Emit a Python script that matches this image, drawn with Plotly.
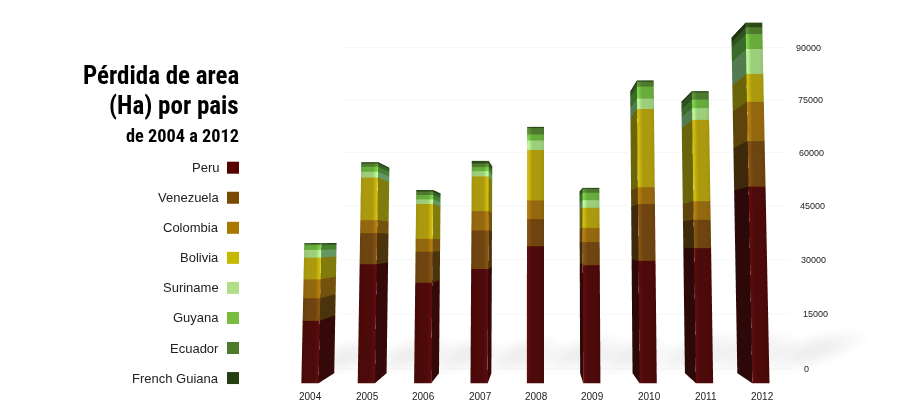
import math
import plotly.graph_objects as go

# ---- data ----
years = [2004, 2005, 2006, 2007, 2008, 2009, 2010, 2011, 2012]
peru = [15850, 30400, 25630, 29180, 35060, 30130, 31250, 34545, 50570]
venezuela = [5800, 8050, 7970, 9960, 7010, 5970, 14730, 7350, 11950]
colombia = [4850, 3380, 3360, 5020, 4900, 3700, 4420, 4860, 10390]
bolivia = [5600, 11080, 9080, 9090, 13230, 5250, 20620, 21380, 7470]
suriname = [2000, 1560, 1210, 1390, 2500, 2000, 2780, 3120, 6670]
guyana = [1200, 1300, 1130, 1040, 1560, 1900, 3190, 2260, 4000]
ecuador = [350, 870, 870, 950, 1700, 1020, 1300, 1900, 1840]
french_guiana = [200, 350, 430, 690, 340, 260, 360, 360, 1240]
countries = ["Peru", "Venezuela", "Colombia", "Bolivia", "Suriname", "Guyana", "Ecuador", "French Guiana"]
legend_colors = ["#560000", "#7a4a00", "#a87800", "#c4b800", "#b2de88", "#78bc40", "#4e7a2c", "#263f10"]
tick_values = [0, 15000, 30000, 45000, 60000, 75000, 90000]
title_lines = ["Pérdida de area", "(Ha) por pais"]
subtitle = "de 2004 a 2012"
series = [peru, venezuela, colombia, bolivia, suriname, guyana, ecuador, french_guiana]

# ---- face styles ----
front_rgb = [(76, 10, 10), (110, 68, 16), (148, 104, 14), (172, 154, 14),
             (156, 206, 124), (104, 172, 60), (78, 122, 46), (44, 74, 24)]
side_rgb = [(44, 8, 8), (62, 42, 10), (94, 68, 11), (106, 100, 11),
            (82, 124, 80), (58, 106, 40), (47, 80, 32), (29, 48, 16)]

# ---- geometry of the view (pixels of the page; the page body has an 8px margin) ----
F = 210 / math.tan(math.pi / 8)
PAGE = 8
PX_YEAR, PX_K = 55.6, 3.85
HALF = 8.5 / PX_YEAR
BASE = -1200
DEPTH_PX = 38.0
X_RANGE, Y_RANGE, Z_RANGE = [2002.0, 2015.0], [0.0, 60.0], [-12000.0, 112000.0]
VX = 2008 + 4.5 / PX_YEAR
HORIZON = 35200
TILT = 23 / F
aspect = dict(x=(X_RANGE[1] - X_RANGE[0]) * PX_YEAR / F,
              y=(Y_RANGE[1] - Y_RANGE[0]) / F,
              z=(Z_RANGE[1] - Z_RANGE[0]) / 1000 * PX_K / F)
nx = lambda v: (v - sum(X_RANGE) / 2) * PX_YEAR / F
ny = lambda v: (v - sum(Y_RANGE) / 2) / F
nz = lambda v: (v - sum(Z_RANGE) / 2) / 1000 * PX_K / F


def hexrgb(t, m=1.0):
    return "rgb(%d,%d,%d)" % tuple(min(255, int(c * m)) for c in t)


def add_quad(mesh, corners, colors):
    start = len(mesh["x"])
    for (x, y, z), c in zip(corners, colors):
        mesh["x"].append(x); mesh["y"].append(y); mesh["z"].append(z); mesh["c"].append(c)
    mesh["i"] += [start, start]
    mesh["j"] += [start + 1, start + 2]
    mesh["k"] += [start + 2, start + 3]


fig = go.Figure()
STRIPS_R = [0.0, 0.25, 0.7, 0.9, 1.0]
SHADE_R = [0.96, 1.0, 1.0, 1.2, 1.28]
bottoms = [BASE] * len(years)
for s, values in enumerate(series):
    m = dict(x=[], y=[], z=[], c=[], i=[], j=[], k=[])
    for b, (yr, v) in enumerate(zip(years, values)):
        z0, z1 = bottoms[b], bottoms[b] + v
        x0, x1 = yr - HALF, yr + HALF
        right_side = yr < 2008
        for a in range(len(STRIPS_R) - 1):
            f0, f1 = STRIPS_R[a], STRIPS_R[a + 1]
            s0, s1 = SHADE_R[a], SHADE_R[a + 1]
            if not right_side:
                f0, f1, s0, s1 = 1 - f1, 1 - f0, s1, s0
            xa, xb = x0 + (x1 - x0) * f0, x0 + (x1 - x0) * f1
            ca, cb = hexrgb(front_rgb[s], s0), hexrgb(front_rgb[s], s1)
            add_quad(m, [(xa, 0, z0), (xb, 0, z0), (xb, 0, z1), (xa, 0, z1)], [ca, cb, cb, ca])
        cr = hexrgb(side_rgb[s], 1.22)
        cl = hexrgb(side_rgb[s], 1.0)
        add_quad(m, [(x1, 0, z0), (x1, DEPTH_PX, z0), (x1, DEPTH_PX, z1), (x1, 0, z1)], [cr] * 4)
        add_quad(m, [(x0, 0, z0), (x0, DEPTH_PX, z0), (x0, DEPTH_PX, z1), (x0, 0, z1)], [cl] * 4)
        ct = hexrgb(side_rgb[s], 0.9)
        add_quad(m, [(x0, 0, z1), (x1, 0, z1), (x1, DEPTH_PX, z1), (x0, DEPTH_PX, z1)], [ct] * 4)
        bottoms[b] = z1
    fig.add_trace(go.Mesh3d(x=m["x"], y=m["y"], z=m["z"], i=m["i"], j=m["j"], k=m["k"],
                            vertexcolor=m["c"], name=countries[s], flatshading=False,
                            lighting=dict(ambient=1, diffuse=0, specular=0, roughness=1, fresnel=0),
                            hoverinfo="skip", showscale=False))

GRID_X = [2004.2, 2012.88]
for v in tick_values:
    fig.add_trace(go.Scatter3d(x=GRID_X, y=[DEPTH_PX, DEPTH_PX], z=[v, v], mode="lines",
                               line=dict(color="#efefef", width=1), hoverinfo="skip", showlegend=False))

annotations = []
for v in tick_values:
    annotations.append(dict(x=2013.08, y=DEPTH_PX, z=v, text=str(v), showarrow=False, xanchor="left",
                            font=dict(family="Liberation Sans", size=9, color="#222222")))
for yr in years:
    annotations.append(dict(x=yr + 0.02, y=0, z=BASE - 3400, text=str(yr), showarrow=False,
                            font=dict(family="Liberation Sans", size=10, color="#222222")))

# soft floor shadows, thrown back and to the right by each bar
shapes = []
for yr, total in zip(years, bottoms):
    sx = 540 + (yr - VX) * PX_YEAR
    length = 45 + total / 1000 * 0.75
    for scale in [1.0, 0.9, 0.8, 0.7, 0.6, 0.5, 0.4, 0.3]:
        pts = []
        for t in range(28):
            ang = 2 * math.pi * t / 28
            u = math.cos(ang) * length * 0.5 * scale + length * 0.5
            w = math.sin(ang) * 17 * scale
            px = sx + u * 0.96 + w * 0.3
            py = 367 - u * 0.28 + w * 0.96
            pts.append("%.1f %.1f" % (px, py))
        shapes.append(dict(type="path", xref="x", yref="y", layer="below",
                           path="M" + " L".join(pts) + " Z",
                           fillcolor="rgba(0,0,0,0.006)", line=dict(width=0)))

page = []
TITLE_FONT = "Roboto Condensed, Liberation Sans Narrow, Roboto, Liberation Sans"
for text, ypos, size in [(title_lines[0], 75, 25), (title_lines[1], 105, 25), (subtitle, 135, 18.3)]:
    page.append(dict(x=241, y=ypos, xref="x", yref="y", text="<b>%s</b>" % text, showarrow=False,
                     xanchor="right", yanchor="middle",
                     font=dict(family=TITLE_FONT, size=size, color="#000000")))
for n, (name, col) in enumerate(zip(countries, legend_colors)):
    yc = 167.7 + 30.05 * n
    page.append(dict(x=221, y=yc, xref="x", yref="y", text=name, showarrow=False, xanchor="right",
                     yanchor="middle", font=dict(family="Liberation Sans", size=13, color="#222222")))
    shapes.append(dict(type="rect", xref="x", yref="y", x0=227, x1=239, y0=yc - 6, y1=yc + 6,
                       fillcolor=col, line=dict(width=0), layer="above"))

fig.add_trace(go.Scatter(x=[PAGE, 920 + PAGE], y=[PAGE, 420 + PAGE], mode="markers", marker=dict(opacity=0),
                         hoverinfo="skip", showlegend=False))

fig.update_layout(
    width=920, height=420, margin=dict(l=0, r=0, t=0, b=0), showlegend=False,
    paper_bgcolor="#ffffff", plot_bgcolor="rgba(0,0,0,0)",
    xaxis=dict(range=[PAGE, 920 + PAGE], visible=False, domain=[0, 1], fixedrange=True),
    yaxis=dict(range=[420 + PAGE, PAGE], visible=False, domain=[0, 1], fixedrange=True),
    shapes=shapes, annotations=page,
    scene=dict(
        domain=dict(x=[152 / 920, 912 / 920], y=[0, 1]),
        bgcolor="rgba(0,0,0,0)",
        aspectmode="manual", aspectratio=aspect,
        xaxis=dict(visible=False, range=X_RANGE),
        yaxis=dict(visible=False, range=Y_RANGE),
        zaxis=dict(visible=False, range=Z_RANGE),
        camera=dict(
            projection=dict(type="perspective"),
            up=dict(x=0, y=0, z=1),
            eye=dict(x=nx(VX), y=ny(0) - 1, z=nz(HORIZON)),
            center=dict(x=nx(VX), y=ny(0), z=nz(HORIZON) + TILT),
        ),
        annotations=annotations,
    ),
)
fig.write_html("out.html")
